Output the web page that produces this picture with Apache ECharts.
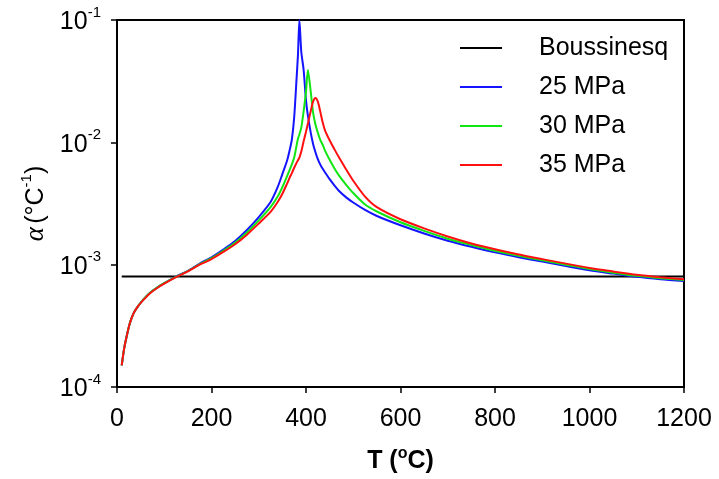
<!DOCTYPE html>
<html>
<head>
<meta charset="utf-8">
<script src="https://cdn.jsdelivr.net/npm/echarts@6/dist/echarts.min.js"></script>
<style>
  html, body { margin: 0; padding: 0; background: #ffffff; }
  #chart { width: 719px; height: 479px; }
</style>
</head>
<body>
<div id="chart"></div>
<script>
// Temperature grid (°C), shared by the three pressure curves
const temps = [10, 15, 20, 27, 35, 45, 57, 70, 85, 100,
  125, 150, 175, 200, 225, 250, 275, 300, 325, 340,
  350, 360, 365, 370, 375, 380, 383, 386, 390, 395,
  400, 404, 410, 415, 420, 425, 430, 435, 440, 450,
  460, 470, 485, 500, 525, 550, 600, 650, 700, 750,
  800, 850, 900, 950, 1000, 1050, 1100, 1150, 1200];

// Thermal expansion coefficient alpha (1/°C) at 25, 30 and 35 MPa
const alpha25 = [1.5e-4, 2.05e-4, 2.55e-4, 3.3e-4, 4.0e-4, 4.6e-4, 5.25e-4, 5.9e-4, 6.5e-4, 7.05e-4,
  8.0e-4, 8.9e-4, 1.02e-3, 1.15e-3, 1.33e-3, 1.56e-3, 1.92e-3, 2.45e-3, 3.25e-3, 4.3e-3,
  5.5e-3, 7.1e-3, 8.5e-3, 1.05e-2, 1.6e-2, 3.3e-2, 5.2e-2, 1.0e-1, 5.5e-2, 3.9e-2,
  2.2e-2, 1.65e-2, 1.2e-2, 9.7e-3, 8.3e-3, 7.3e-3, 6.6e-3, 6.1e-3, 5.7e-3, 5.0e-3,
  4.45e-3, 4.0e-3, 3.55e-3, 3.22e-3, 2.8e-3, 2.5e-3, 2.1e-3, 1.8e-3, 1.57e-3, 1.4e-3,
  1.26e-3, 1.15e-3, 1.06e-3, 9.75e-4, 9.0e-4, 8.45e-4, 7.95e-4, 7.6e-4, 7.35e-4];

const alpha30 = [1.5e-4, 2.05e-4, 2.55e-4, 3.3e-4, 4.0e-4, 4.6e-4, 5.25e-4, 5.9e-4, 6.5e-4, 7.05e-4,
  7.95e-4, 8.85e-4, 1.01e-3, 1.13e-3, 1.3e-3, 1.51e-3, 1.83e-3, 2.3e-3, 2.95e-3, 3.6e-3,
  4.3e-3, 5.3e-3, 5.9e-3, 6.6e-3, 7.5e-3, 9.4e-3, 1.07e-2, 1.16e-2, 1.32e-2, 1.8e-2,
  2.6e-2, 3.9e-2, 2.6e-2, 1.75e-2, 1.4e-2, 1.2e-2, 1.05e-2, 9.6e-3, 8.6e-3, 7.2e-3,
  6.15e-3, 5.35e-3, 4.5e-3, 3.85e-3, 3.1e-3, 2.72e-3, 2.22e-3, 1.89e-3, 1.63e-3, 1.45e-3,
  1.3e-3, 1.18e-3, 1.085e-3, 1.0e-3, 9.2e-4, 8.6e-4, 8.1e-4, 7.75e-4, 7.48e-4];

const alpha35 = [1.5e-4, 2.05e-4, 2.55e-4, 3.3e-4, 4.0e-4, 4.6e-4, 5.2e-4, 5.85e-4, 6.45e-4, 7.0e-4,
  7.9e-4, 8.8e-4, 1.0e-3, 1.11e-3, 1.27e-3, 1.47e-3, 1.76e-3, 2.17e-3, 2.7e-3, 3.25e-3,
  3.8e-3, 4.6e-3, 5.1e-3, 5.6e-3, 6.2e-3, 6.8e-3, 7.15e-3, 7.5e-3, 8.4e-3, 1.02e-2,
  1.22e-2, 1.42e-2, 1.8e-2, 2.15e-2, 2.3e-2, 2.15e-2, 1.8e-2, 1.47e-2, 1.26e-2, 1.04e-2,
  8.8e-3, 7.5e-3, 6.0e-3, 4.85e-3, 3.6e-3, 2.95e-3, 2.35e-3, 1.98e-3, 1.7e-3, 1.49e-3,
  1.335e-3, 1.21e-3, 1.11e-3, 1.02e-3, 9.4e-4, 8.8e-4, 8.27e-4, 7.9e-4, 7.6e-4];

// Boussinesq approximation: constant alpha across the range
const boussinesqTemps = [10, 1200];
const boussinesqAlpha = [8.0e-4, 8.0e-4];

const seriesNames = ['Boussinesq', '25 MPa', '30 MPa', '35 MPa'];
const seriesColors = ['#000000', '#1414ff', '#12e612', '#ff1010'];

const FONT = '"Liberation Sans", Arial, sans-serif';

function pairs(xs, ys) {
  return xs.map((x, i) => [x, ys[i]]);
}

const chart = echarts.init(document.getElementById('chart'), null, { renderer: 'canvas' });

const curveData = [
  pairs(boussinesqTemps, boussinesqAlpha),
  pairs(temps, alpha25),
  pairs(temps, alpha30),
  pairs(temps, alpha35)
];

chart.setOption({
  backgroundColor: '#ffffff',
  animation: false,
  grid: {
    left: 117, right: 35, top: 20, bottom: 91,
    show: true, borderColor: '#000', borderWidth: 2, backgroundColor: 'transparent'
  },
  legend: {
    orient: 'vertical',
    left: 455,
    top: 28,
    icon: 'rect',
    itemWidth: 42,
    itemHeight: 2,
    itemGap: 9,
    data: seriesNames,
    textStyle: {
      fontFamily: FONT, fontSize: 25, color: '#000',
      lineHeight: 30, padding: [0, 0, 0, 32]
    }
  },
  xAxis: {
    type: 'value',
    min: 0, max: 1200, interval: 200,
    name: '{t|T (}{s|o}{t|C)}',
    nameLocation: 'middle',
    nameGap: 59,
    nameTextStyle: {
      rich: {
        t: { fontFamily: FONT, fontSize: 25, fontWeight: 'bold', color: '#000', verticalAlign: 'bottom', lineHeight: 28 },
        s: { fontFamily: FONT, fontSize: 16, fontWeight: 'bold', color: '#000', verticalAlign: 'top', lineHeight: 28 }
      }
    },
    axisLine: { show: true, lineStyle: { color: '#000', width: 2 } },
    axisTick: { show: true, inside: false, length: 6, lineStyle: { color: '#000', width: 1.5 } },
    axisLabel: {
      fontFamily: FONT, fontSize: 25, color: '#000', margin: 20,
      formatter: function (v) { return String(v); }
    },
    splitLine: { show: false }
  },
  yAxis: {
    type: 'log',
    logBase: 10,
    min: 1e-4, max: 1e-1,
    name: '{a|α} {t|(°C}{s|-1}{t|)}',
    nameLocation: 'middle',
    nameRotate: 90,
    nameGap: 68,
    nameTextStyle: {
      rich: {
        a: { fontFamily: '"Liberation Serif", "Times New Roman", serif', fontStyle: 'italic', fontSize: 27, color: '#000', verticalAlign: 'bottom', lineHeight: 30 },
        t: { fontFamily: FONT, fontSize: 25, color: '#000', verticalAlign: 'bottom', lineHeight: 30 },
        s: { fontFamily: FONT, fontSize: 15, color: '#000', verticalAlign: 'top', lineHeight: 30 }
      }
    },
    axisLine: { show: true, lineStyle: { color: '#000', width: 2 } },
    axisTick: { show: true, inside: false, length: 6, lineStyle: { color: '#000', width: 1.5 } },
    axisLabel: {
      margin: 16,
      formatter: function (v) {
        const e = Math.round(Math.log10(v));
        return '{b|10}{s|' + e + '}';
      },
      rich: {
        b: { fontFamily: FONT, fontSize: 25, color: '#000', verticalAlign: 'bottom', lineHeight: 30 },
        s: { fontFamily: FONT, fontSize: 15, color: '#000', verticalAlign: 'top', lineHeight: 30 }
      }
    },
    splitLine: { show: false },
    minorTick: { show: false }
  },
  series: seriesNames.map((name, i) => ({
    name: name,
    type: 'line',
    data: curveData[i],
    symbol: 'none',
    smooth: i === 0 ? false : 0.25,
    clip: true,
    color: seriesColors[i],
    lineStyle: { color: seriesColors[i], width: 2 },
    z: 2 + i
  }))
});
</script>
</body>
</html>
